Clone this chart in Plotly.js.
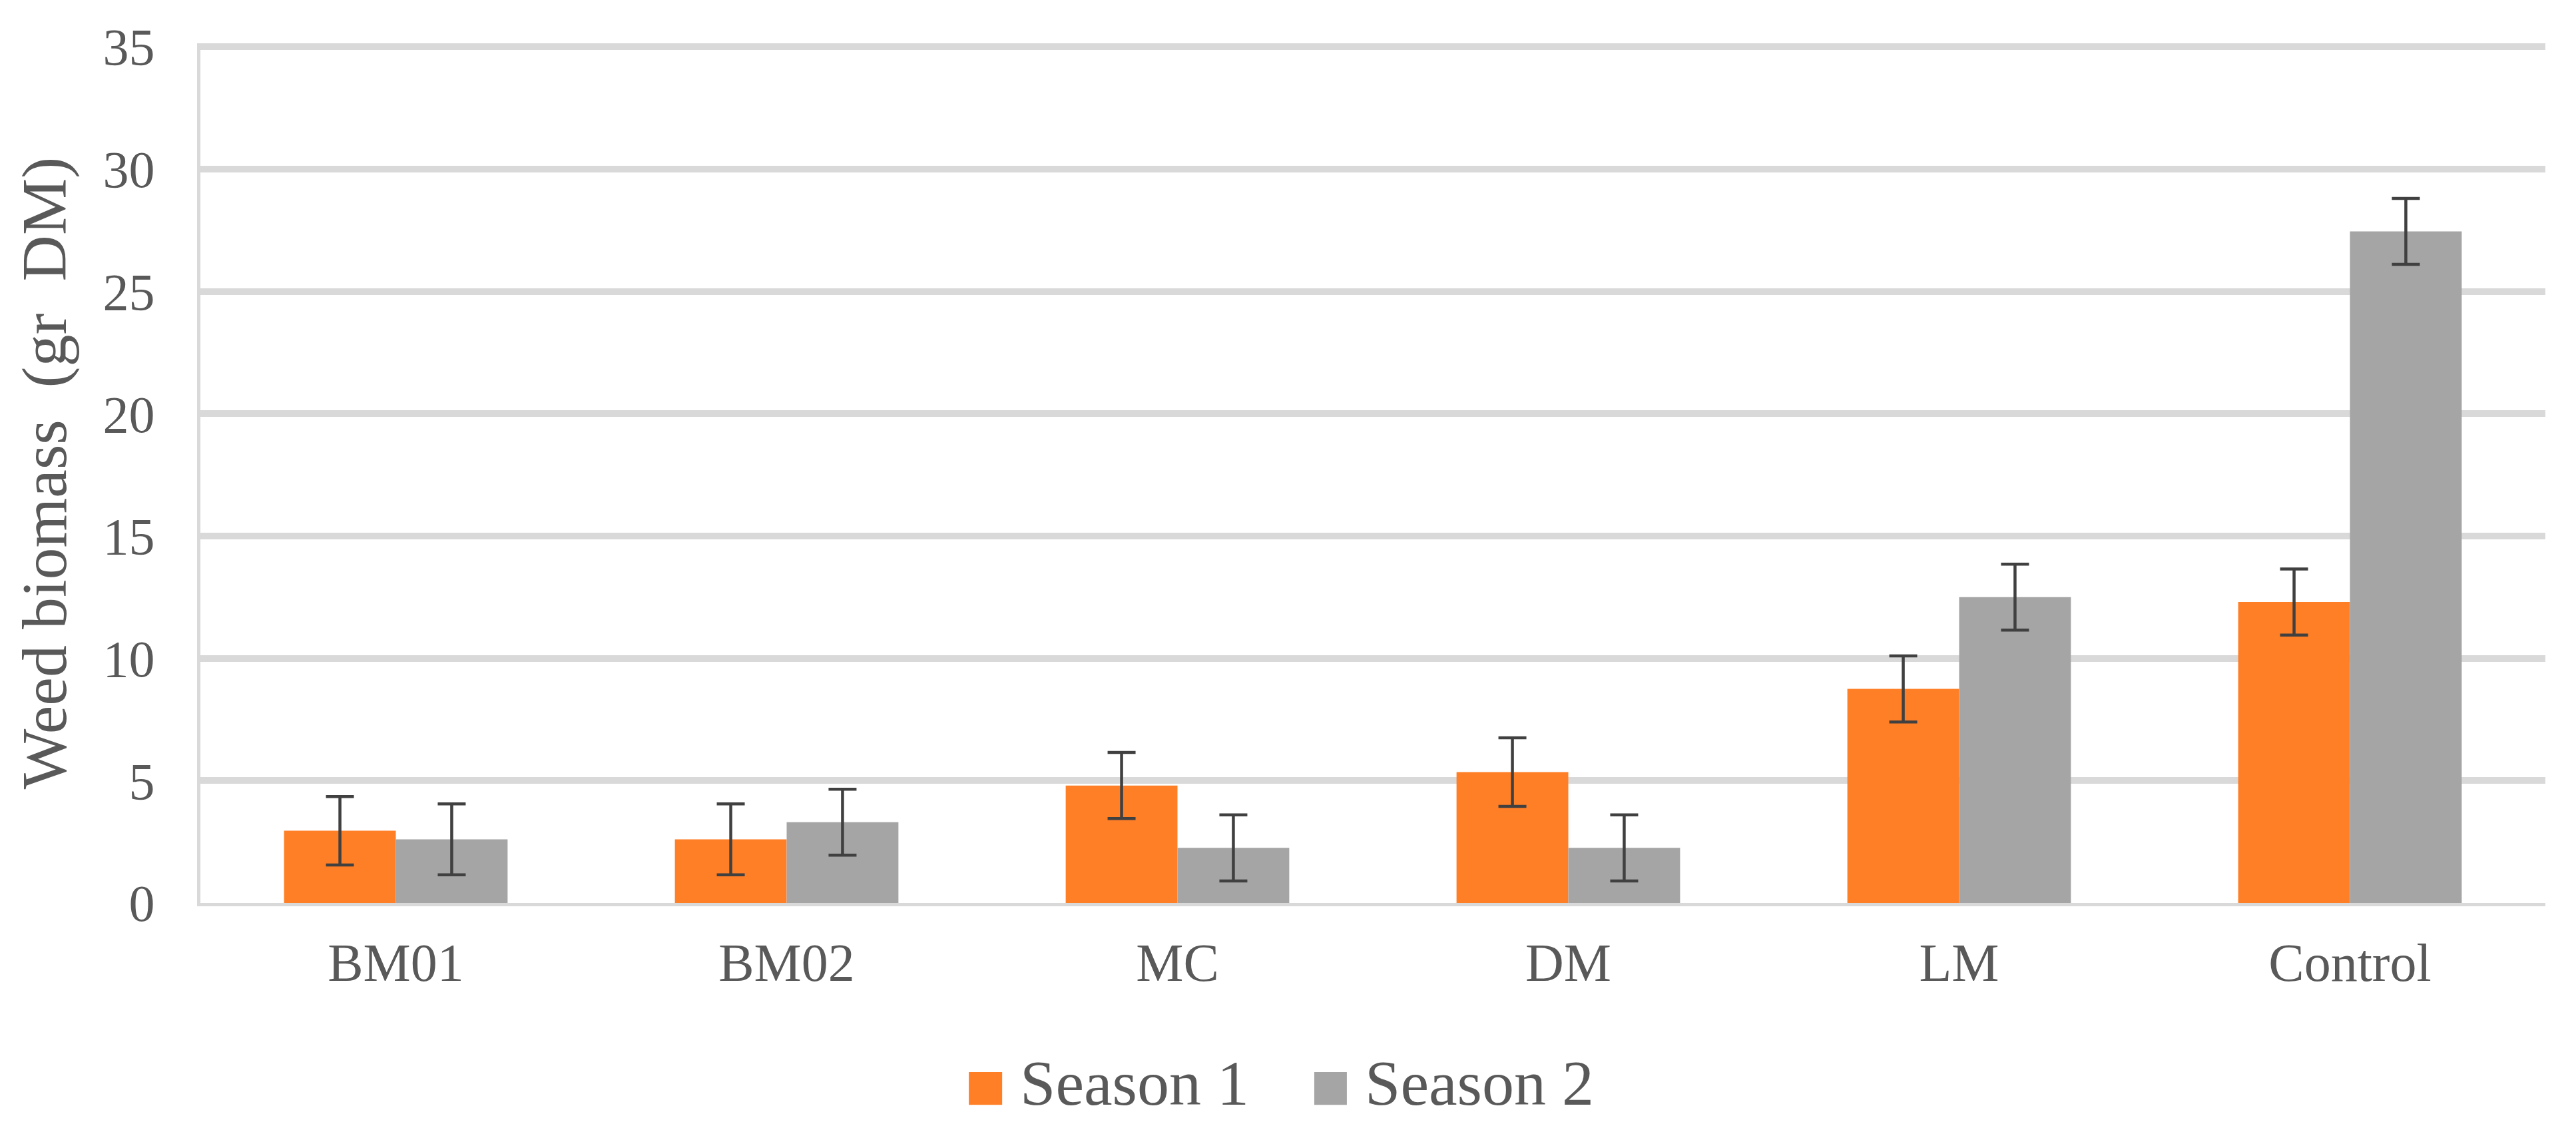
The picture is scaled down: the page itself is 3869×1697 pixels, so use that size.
<!DOCTYPE html>
<html>
<head>
<meta charset="utf-8">
<script src="https://cdn.plot.ly/plotly-3.0.1.min.js"></script>
<style>html,body{margin:0;padding:0;background:#fff;}#chart{width:3869px;height:1697px;}</style>
</head>
<body>
<div id="chart"></div>
<script>
// ---- data ----
const categories = ["BM01", "BM02", "MC", "DM", "LM", "Control"];
const seriesNames = ["Season 1", "Season 2"];
const season1 = [2.95, 2.6, 4.8, 5.35, 8.75, 12.3];
const season1Err = [1.4, 1.45, 1.35, 1.4, 1.35, 1.35];
const season2 = [2.6, 3.3, 2.25, 2.25, 12.5, 27.45];
const season2Err = [1.45, 1.35, 1.35, 1.35, 1.35, 1.35];
const yTicks = [0, 5, 10, 15, 20, 25, 30, 35];

const colors = ["#FF7F27", "#A5A5A5"];
const fontFam = "Liberation Serif, Times New Roman, serif";
const textCol = "#595959";

const errStyle = {type: "data", visible: true, color: "#404040", thickness: 4.5, width: 21};

const traces = [
  {type: "bar", name: seriesNames[0], x: categories, y: season1,
   marker: {color: colors[0]}, error_y: Object.assign({array: season1Err}, errStyle), showlegend: false},
  {type: "bar", name: seriesNames[1], x: categories, y: season2,
   marker: {color: colors[1]}, error_y: Object.assign({array: season2Err}, errStyle), showlegend: false}
];

// custom legend (large squares like the reference)
const legSq = [[0.3277, 0.3419], [0.4750, 0.4889]];
const legTx = [0.3489, 0.4960];
const shapes = [];
const annotations = [];
for (let i = 0; i < seriesNames.length; i++) {
  shapes.push({type: "rect", xref: "paper", yref: "paper", x0: legSq[i][0], x1: legSq[i][1],
    y0: -0.2348, y1: -0.1967, fillcolor: colors[i], line: {width: 0}});
  annotations.push({xref: "paper", yref: "paper", x: legTx[i], y: -0.2092, xanchor: "left", yanchor: "middle",
    showarrow: false, text: seriesNames[i], font: {family: fontFam, size: 96, color: textCol}});
}

const layout = {
  width: 3869, height: 1697,
  paper_bgcolor: "#ffffff", plot_bgcolor: "#ffffff",
  margin: {l: 301, r: 46, t: 65, b: 341, pad: 0},
  barmode: "group", bargap: 0.428, bargroupgap: 0,
  showlegend: false,
  font: {family: fontFam, color: textCol},
  xaxis: {
    type: "category", showgrid: false, showline: true, linecolor: "#d9d9d9", linewidth: 5,
    ticks: "", tickfont: {family: fontFam, size: 80, color: textCol}, ticklabelstandoff: 16,
    zeroline: false
  },
  yaxis: {
    range: [0, 35.14], tickvals: yTicks, ticktext: yTicks.map(String),
    showgrid: true, gridcolor: "#d9d9d9", gridwidth: 10,
    showline: true, linecolor: "#d9d9d9", linewidth: 5,
    zeroline: false, ticks: "",
    tickfont: {family: fontFam, size: 78, color: textCol}, ticklabelstandoff: 48,
    title: {text: "Weed biomass\u00A0 (gr\u00A0 DM)", font: {family: fontFam, size: 96, color: textCol}, standoff: 24}
  },
  shapes: shapes,
  annotations: annotations
};

Plotly.newPlot("chart", traces, layout, {staticPlot: true, displayModeBar: false});
</script>
</body>
</html>
